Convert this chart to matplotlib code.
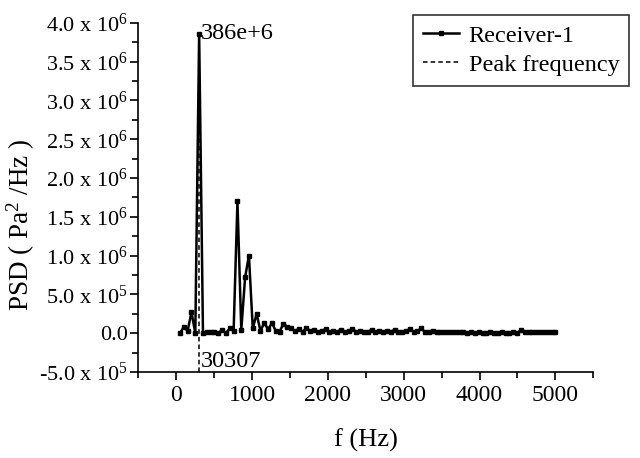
import numpy as np
import matplotlib
matplotlib.use("Agg")
import matplotlib.pyplot as plt
from matplotlib.ticker import MultipleLocator, FuncFormatter

plt.rcParams['font.family'] = ['Liberation Serif', 'DejaVu Serif']
plt.rcParams['mathtext.fontset'] = 'custom'
plt.rcParams['mathtext.rm'] = 'Liberation Serif'
plt.rcParams['mathtext.it'] = 'Liberation Serif:italic'

# frequency grid (Hz) and PSD of receiver 1 (x 1e6 Pa^2/Hz)
df = 50.51
freq = np.arange(1, 100) * df
psd = np.array([
    0.00, 0.08, 0.03, 0.27, 0.00, 3.86, 0.00, 0.01, 0.01, 0.02,
    0.00, 0.04, 0.00, 0.06, 0.03, 1.70, 0.04, 0.72, 1.00, 0.06,
    0.25, 0.03, 0.13, 0.05, 0.13, 0.03, 0.02, 0.12, 0.08, 0.06,
    0.03, 0.05, 0.02, 0.06, 0.03, 0.04, 0.02, 0.03, 0.05, 0.02,
    0.03, 0.02, 0.04, 0.01, 0.03, 0.05, 0.02, 0.03, 0.01, 0.02,
    0.04, 0.02, 0.03, 0.01, 0.03, 0.02, 0.04, 0.01, 0.02, 0.03,
    0.05, 0.02, 0.03, 0.06, 0.01, 0.02, 0.03, 0.01, 0.02, 0.01,
    0.02, 0.01, 0.01, 0.02, 0.01, 0.00, 0.01, 0.00, 0.01, 0.00,
    0.00, 0.01, 0.00, 0.00, 0.01, 0.00, 0.00, 0.01, 0.00, 0.04,
    0.02, 0.02, 0.01, 0.02, 0.01, 0.01, 0.02, 0.01, 0.01,
]) * 1e6
peak_f = 303.07
peak_psd = 3.86e6

fig = plt.figure(figsize=(6.4, 4.58), dpi=100)
ax = fig.add_axes([0.216, 0.188, 0.711, 0.762])

ax.plot(freq, psd, color='black', lw=1.8, marker='s', ms=2.6, label='Receiver-1')
ax.plot([peak_f, peak_f], [-0.5e6, peak_psd], color='black', lw=1.1,
        ls=(0, (3, 2)), label='Peak frequency')

ax.text(peak_f + 20, peak_psd, '386e+6', fontsize=17.5, va='center', ha='left')
ax.text(peak_f + 20, -0.37e6, '30307', fontsize=17.5, va='center', ha='left')

ax.set_xlim(-500, 5500)
ax.set_ylim(-0.5e6, 4.0e6)
ax.xaxis.set_major_locator(MultipleLocator(1000))
ax.xaxis.set_minor_locator(MultipleLocator(500))
ax.yaxis.set_major_locator(MultipleLocator(0.5e6))
ax.yaxis.set_minor_locator(MultipleLocator(0.25e6))


def yfmt(v, pos):
    if abs(v) < 1:
        return '0.0'
    e = int(np.floor(np.log10(abs(v)) + 1e-9))
    m = v / 10 ** e
    return '%.1f x 10$^{%d}$' % (m, e)


ax.yaxis.set_major_formatter(FuncFormatter(yfmt))
ax.tick_params(which='major', length=6, width=1.2, direction='out')
ax.tick_params(axis='x', which='major', labelsize=17)
ax.tick_params(axis='y', which='major', labelsize=16, pad=1.5)
ax.tick_params(which='minor', length=4, width=1.2, direction='out')
ax.spines['top'].set_visible(False)
ax.spines['right'].set_visible(False)
ax.spines['left'].set_linewidth(1.2)
ax.spines['bottom'].set_linewidth(1.2)

ax.set_xlabel('f (Hz)', fontsize=19, labelpad=16)
ax.set_ylabel('PSD ( Pa$^{2}$ /Hz )', fontsize=19.5)
ax.yaxis.set_label_coords(-0.222, 0.42)

leg = ax.legend(loc='upper right', bbox_to_anchor=(1.079, 1.023), fontsize=17.5,
                frameon=True, fancybox=False, edgecolor='black',
                handlelength=1.5, handletextpad=0.4, borderpad=0.4,
                labelspacing=0.3, borderaxespad=0.0)
leg.get_frame().set_linewidth(1.2)

fig.savefig('out.png', dpi=100)
